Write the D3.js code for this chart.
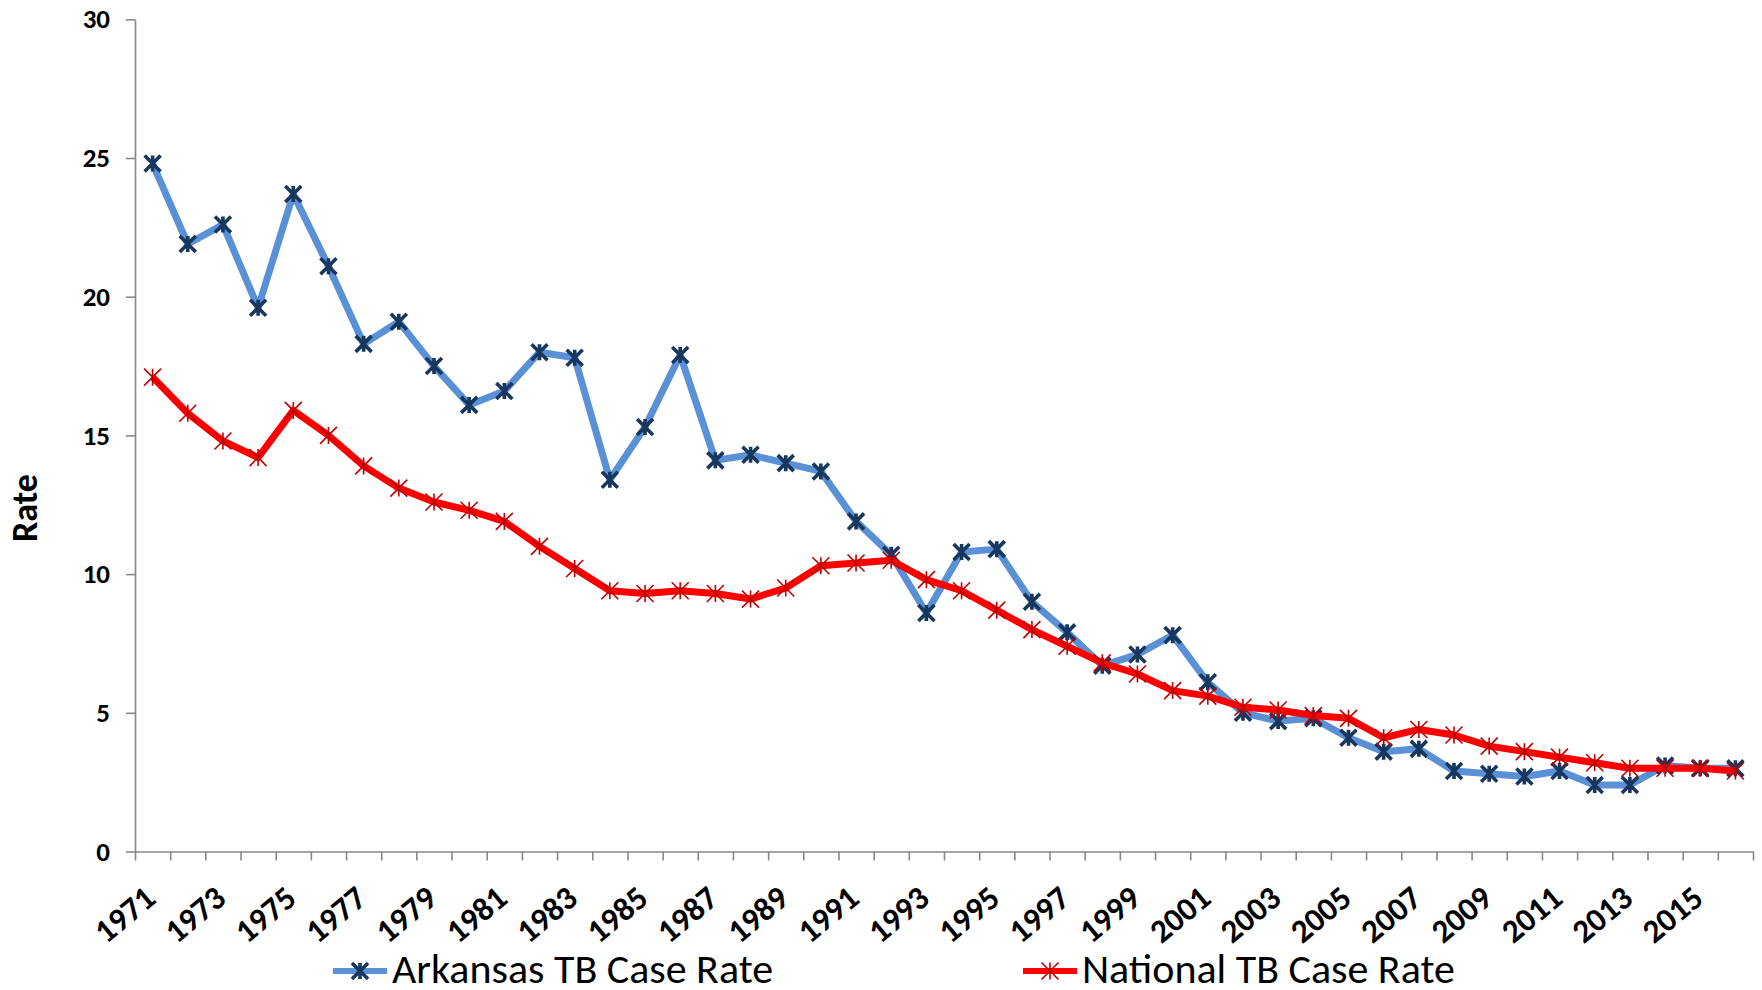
<!DOCTYPE html>
<html>
<head>
<meta charset="utf-8">
<script src="https://cdn.jsdelivr.net/npm/d3@7"></script>
<style>
  html, body { margin: 0; padding: 0; background: #fff; }
  text { font-family: Carlito, Lato, "Open Sans", sans-serif; }
</style>
</head>
<body>
<div id="chart"></div>
<script>
const years = d3.range(1971, 2017);

const arkansasRate = [
  24.8, 21.9, 22.6, 19.6, 23.7, 21.1, 18.3, 19.1, 17.5, 16.1,
  16.6, 18.0, 17.8, 13.4, 15.3, 17.9, 14.1, 14.3, 14.0, 13.7,
  11.9, 10.7, 8.6, 10.8, 10.9, 9.0, 7.9, 6.7, 7.1, 7.8,
  6.1, 5.0, 4.7, 4.8, 4.1, 3.6, 3.7, 2.9, 2.8, 2.7,
  2.9, 2.4, 2.4, 3.1, 3.0, 3.0
];

const nationalRate = [
  17.1, 15.8, 14.8, 14.2, 15.9, 15.0, 13.9, 13.1, 12.6, 12.3,
  11.9, 11.0, 10.2, 9.4, 9.3, 9.4, 9.3, 9.1, 9.5, 10.3,
  10.4, 10.5, 9.8, 9.4, 8.7, 8.0, 7.4, 6.8, 6.4, 5.8,
  5.6, 5.2, 5.1, 4.9, 4.8, 4.1, 4.4, 4.2, 3.8, 3.6,
  3.4, 3.2, 3.0, 3.0, 3.0, 2.9
];

const yTicks = [0, 5, 10, 15, 20, 25, 30];
const xTickLabels = years.filter((y, i) => i % 2 === 0);

const series = [
  { name: "Arkansas TB Case Rate", values: arkansasRate, line: "#5990d6", marker: "#17375e", markerWidth: 3.6, markerSize: 8 },
  { name: "National TB Case Rate", values: nationalRate, line: "#ff0000", marker: "#c00000", markerWidth: 1.6, markerSize: 8.5 }
];

const WIDTH = 1762, HEIGHT = 990;
const PLOT = { LEFT: 135, RIGHT: 1753, TOP: 19.3, BOTTOM: 851.5 };
const AXIS_COLOR = "#888888";

const svg = d3.select("#chart").append("svg")
  .attr("width", WIDTH)
  .attr("height", HEIGHT);

svg.append("rect").attr("width", WIDTH).attr("height", HEIGHT).attr("fill", "#fff");

const x = d3.scaleBand()
  .domain(years)
  .range([PLOT.LEFT, PLOT.RIGHT]);

// boundary scale for the category tick marks (between categories)
const xEdges = d3.scaleLinear()
  .domain([0, years.length])
  .range([PLOT.LEFT, PLOT.RIGHT]);

const y = d3.scaleLinear()
  .domain([0, 30])
  .range([PLOT.BOTTOM, PLOT.TOP]);

// y axis
const yAxis = svg.append("g")
  .attr("transform", `translate(${PLOT.LEFT},0)`)
  .call(d3.axisLeft(y).tickValues(yTicks).tickSize(9).tickSizeOuter(0).tickPadding(16));
yAxis.select(".domain").attr("stroke", AXIS_COLOR).attr("stroke-width", 1.6);
yAxis.selectAll(".tick line").attr("stroke", AXIS_COLOR).attr("stroke-width", 1.6);
yAxis.selectAll(".tick text")
  .attr("fill", "#000")
  .attr("font-size", 27)
  .attr("font-weight", "bold");

// x axis tick marks
const xAxisTicks = svg.append("g")
  .attr("transform", `translate(0,${PLOT.BOTTOM})`)
  .call(d3.axisBottom(xEdges).tickValues(d3.range(0, years.length + 1)).tickFormat("").tickSize(9).tickSizeOuter(0));
xAxisTicks.select(".domain").attr("stroke", AXIS_COLOR).attr("stroke-width", 1.6);
xAxisTicks.selectAll(".tick line").attr("stroke", AXIS_COLOR).attr("stroke-width", 1.6);

// x axis labels
const xAxisLabels = svg.append("g")
  .attr("transform", `translate(0,${PLOT.BOTTOM})`)
  .call(d3.axisBottom(x).tickValues(xTickLabels).tickSize(0));
xAxisLabels.select(".domain").remove();
xAxisLabels.selectAll(".tick text")
  .attr("fill", "#000")
  .attr("font-size", 33)
  .attr("font-weight", "bold")
  .attr("text-anchor", "end")
  .attr("y", 0)
  .attr("dy", 0)
  .attr("transform", "translate(5,50) rotate(-40)");

// y axis title
svg.append("text")
  .attr("transform", "translate(37,508) rotate(-90)")
  .attr("text-anchor", "middle")
  .attr("font-size", 36)
  .attr("font-weight", "bold")
  .attr("fill", "#000")
  .text("Rate");

const cx = d => x(d) + x.bandwidth() / 2;

const line = d3.line()
  .x(d => cx(d.year))
  .y(d => y(d.value));

const starPath = r => {
  const p = d3.path();
  p.moveTo(0, -r); p.lineTo(0, r);
  p.moveTo(-r, -r); p.lineTo(r, r);
  p.moveTo(-r, r); p.lineTo(r, -r);
  return p.toString();
};

series.forEach(s => {
  const pts = years.map((yr, i) => ({ year: yr, value: s.values[i] }));
  const g = svg.append("g");
  g.append("path")
    .datum(pts)
    .attr("d", line)
    .attr("fill", "none")
    .attr("stroke", s.line)
    .attr("stroke-width", 7)
    .attr("stroke-linejoin", "round");
  g.selectAll(".marker")
    .data(pts)
    .enter().append("path")
    .attr("class", "marker")
    .attr("transform", d => `translate(${cx(d.year)},${y(d.value)})`)
    .attr("d", starPath(s.markerSize))
    .attr("fill", "none")
    .attr("stroke", s.marker)
    .attr("stroke-width", s.markerWidth);
});

// legend
const legendPos = [
  { x: 333, y: 971 },
  { x: 1023, y: 971 }
];
series.forEach((s, i) => {
  const lg = svg.append("g").attr("transform", `translate(${legendPos[i].x},${legendPos[i].y})`);
  lg.append("line")
    .attr("x1", 0).attr("x2", 54)
    .attr("stroke", s.line)
    .attr("stroke-width", 6);
  lg.append("path")
    .attr("transform", "translate(27,0)")
    .attr("d", starPath(s.markerSize))
    .attr("fill", "none")
    .attr("stroke", s.marker)
    .attr("stroke-width", s.markerWidth);
  lg.append("text")
    .attr("x", 59)
    .attr("y", 12)
    .attr("font-size", 42)
    .attr("fill", "#000")
    .text(s.name);
});
</script>
</body>
</html>
